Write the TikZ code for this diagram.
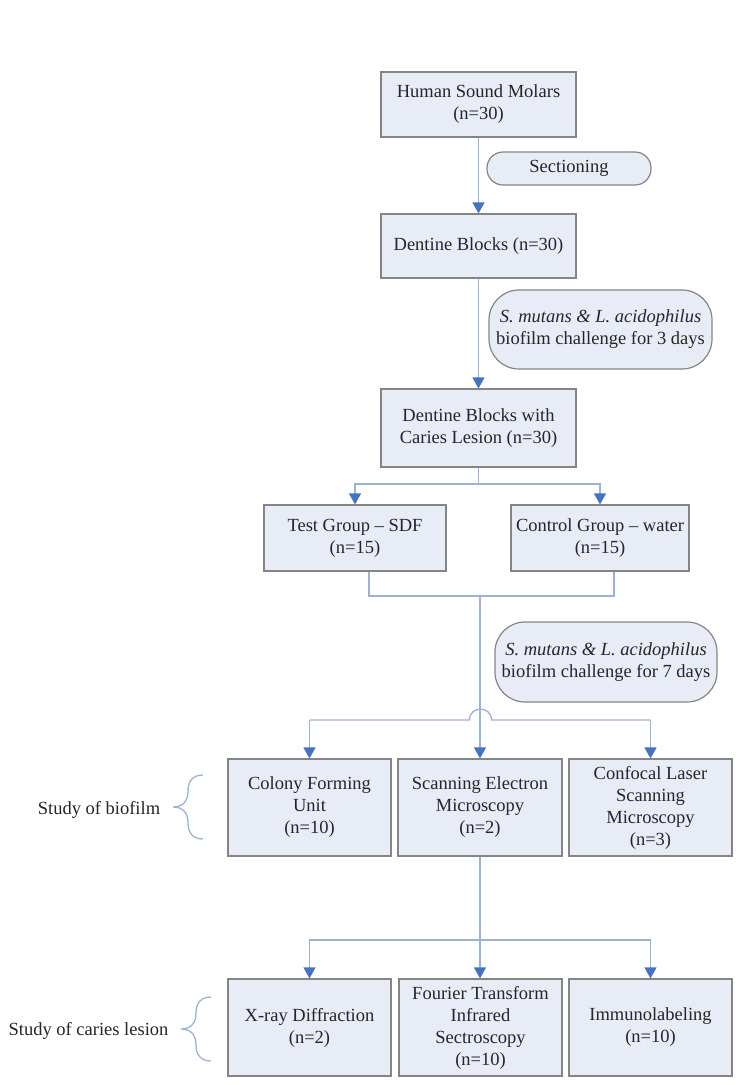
\documentclass[tikz,border=0pt]{standalone}
\usepackage{fontspec}
\setmainfont{Liberation Serif}
\usetikzlibrary{arrows.meta}
\definecolor{boxfill}{HTML}{E8ECF6}
\definecolor{boxline}{HTML}{858585}
\definecolor{connc}{HTML}{9DB2D8}
\definecolor{tipc}{HTML}{4472C4}
\begin{document}
\begin{tikzpicture}[x=1pt,y=-1pt,
  box/.style={draw=boxline, fill=boxfill, line width=1.2pt, inner sep=0pt, align=center,
    font=\fontsize{18.5}{22}\selectfont, text=black!85},
  pill/.style={box, rounded corners=#1},
  conn/.style={draw=connc, line width=1.3pt},
  arr/.style={conn, -{Triangle[width=12pt,length=11pt,color=tipc]}},
  lbl/.style={font=\fontsize{18.5}{22}\selectfont, text=black!85, inner sep=0pt},
  brc/.style={draw=connc, line width=1.3pt}
]
\fill[white] (0,0) rectangle (751,1085);
\useasboundingbox (0,0) rectangle (751,1085);

% boxes
\node[box, minimum width=195pt, minimum height=65pt] (hsm) at (478.5,104.5) {Human Sound Molars\\(n=30)};
\node[pill=16pt, minimum width=164pt, minimum height=33pt] (sec) at (569,168.5) {Sectioning};
\node[box, minimum width=195pt, minimum height=64pt] (db) at (478.5,246) {Dentine Blocks (n=30)};
\node[pill=30pt, minimum width=223pt, minimum height=79pt] (bf3) at (600.5,329.5) {\textit{S. mutans \& L. acidophilus}\\biofilm challenge for 3 days};
\node[box, minimum width=195pt, minimum height=78pt] (dbc) at (478.5,428) {Dentine Blocks with\\Caries Lesion (n=30)};
\node[box, minimum width=182pt, minimum height=66pt] (test) at (355,538) {Test Group -- SDF\\(n=15)};
\node[box, minimum width=178pt, minimum height=66pt] (ctrl) at (600,538) {Control Group -- water\\(n=15)};
\node[pill=30pt, minimum width=222pt, minimum height=80pt] (bf7) at (606,662) {\textit{S. mutans \& L. acidophilus}\\biofilm challenge for 7 days};
\node[box, minimum width=163pt, minimum height=97pt] (cfu) at (309.5,807.5) {Colony Forming\\Unit\\(n=10)};
\node[box, minimum width=164pt, minimum height=97pt] (sem) at (480,807.5) {Scanning Electron\\Microscopy\\(n=2)};
\node[box, minimum width=163pt, minimum height=97pt] (clsm) at (650.5,807.5) {Confocal Laser\\Scanning\\Microscopy\\(n=3)};
\node[box, minimum width=163pt, minimum height=97pt] (xrd) at (309.5,1027.5) {X-ray Diffraction\\(n=2)};
\node[box, minimum width=163pt, minimum height=97pt] (ftir) at (480.5,1027.5) {Fourier Transform\\Infrared\\Sectroscopy\\(n=10)};
\node[box, minimum width=163pt, minimum height=97pt] (imm) at (650.5,1027.5) {Immunolabeling\\(n=10)};

% side labels
\node[lbl] (sb) at (99,810) {Study of biofilm};
\node[lbl] (sc) at (88.5,1031) {Study of caries lesion};
\draw[brc] (203,775) .. controls (193,775) and (188,781) .. (188,791)
  .. controls (188,801) and (183,807) .. (173,807)
  .. controls (183,807) and (188,813) .. (188,823)
  .. controls (188,833) and (193,839) .. (203,839);
\draw[brc] (211,997) .. controls (201,997) and (196,1003) .. (196,1013)
  .. controls (196,1023) and (191,1029) .. (181,1029)
  .. controls (191,1029) and (196,1035) .. (196,1045)
  .. controls (196,1055) and (201,1061) .. (211,1061);

% connectors
\draw[arr] (hsm.south) -- (db.north);
\draw[arr] (db.south) -- (dbc.north);

\coordinate (b1) at (478.5,484);
\draw[conn] (dbc.south) -- (b1);
\draw[arr] (b1) -| (test.north);
\draw[arr] (b1) -| (ctrl.north);

\coordinate (tS) at ([xshift=14pt]test.south);
\coordinate (cS) at ([xshift=14pt]ctrl.south);
\coordinate (m) at (480,596);
\draw[conn] (tS) |- (m) -| (cS);
\draw[arr] (m) -- (sem.north);

\coordinate (hA) at (309.5,720);
\coordinate (hB) at (650.5,720);
\draw[conn] (hA) -- (469.5,720) .. controls (469.5,705.5) and (491.5,705.5) .. (491.5,720) -- (hB);
\draw[arr] (hA) -- (cfu.north);
\draw[arr] (hB) -- (clsm.north);

\coordinate (c1) at (480,940);
\draw[conn] (sem.south) -- (c1);
\draw[arr] (c1) -- (c1 |- ftir.north);
\draw[arr] (c1) -| (xrd.north);
\draw[arr] (c1) -| (imm.north);
\end{tikzpicture}
\end{document}
